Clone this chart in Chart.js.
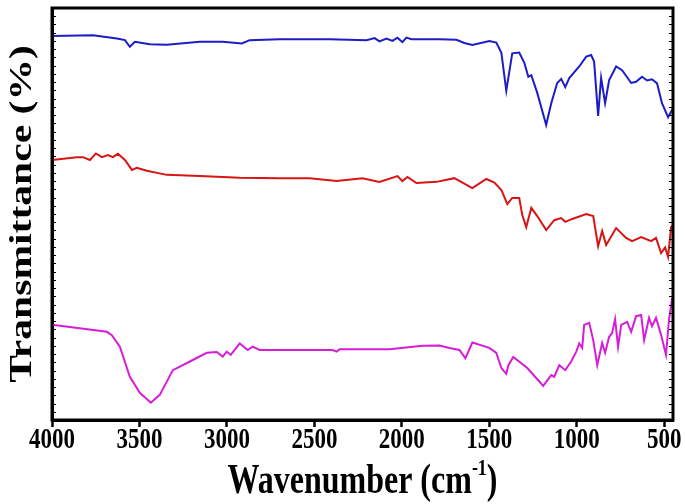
<!DOCTYPE html>
<html>
<head>
<meta charset="utf-8">
<script src="https://cdn.jsdelivr.net/npm/chart.js@4.4.0/dist/chart.umd.min.js"></script>
<style>
  html, body { margin: 0; padding: 0; background: #fff; }
  #wrap { width: 685px; height: 504px; }
</style>
</head>
<body>
<div id="wrap"><canvas id="ftirChart" width="685" height="504"></canvas></div>
<script>
// wavenumber (cm-1) and transmittance, one pair of arrays per trace
const blueWn = [4000, 3766, 3629, 3583, 3555, 3526, 3441, 3344, 3155, 3024, 2915, 2870, 2699, 2413, 2202, 2156, 2128, 2088, 2054, 2025, 1997, 1974, 1945, 1785, 1688, 1643, 1597, 1500, 1460, 1431, 1403, 1369, 1329, 1300, 1277, 1260, 1226, 1175, 1146, 1112, 1089, 1066, 1043, 986, 946, 918, 901, 878, 861, 838, 815, 775, 741, 689, 661, 627, 598, 570, 541, 513, 478, 450];
const blueT = [93.2, 93.4, 92.6, 92.2, 90.6, 91.8, 91.2, 91.1, 91.8, 91.8, 91.4, 92.2, 92.4, 92.4, 92.2, 92.7, 91.9, 92.6, 92.0, 92.8, 91.7, 92.8, 92.4, 92.4, 92.3, 91.5, 91.0, 92.0, 91.6, 89.1, 79.9, 89.0, 89.2, 86.7, 83.3, 83.7, 79.4, 71.6, 76.9, 81.8, 82.8, 80.8, 83.0, 85.8, 88.2, 88.6, 87.0, 73.8, 83.0, 76.9, 82.5, 85.8, 84.9, 81.8, 82.1, 83.3, 82.4, 82.7, 81.7, 76.9, 73.5, 75.7];

const redWn = [4000, 3857, 3823, 3783, 3749, 3715, 3680, 3652, 3623, 3583, 3543, 3515, 3458, 3344, 3155, 2927, 2699, 2527, 2373, 2225, 2128, 2025, 1997, 1968, 1917, 1802, 1700, 1597, 1517, 1471, 1431, 1397, 1369, 1329, 1312, 1289, 1260, 1226, 1175, 1129, 1089, 1066, 1026, 946, 906, 878, 855, 832, 775, 718, 684, 632, 575, 547, 518, 495, 478, 461, 450];
const redT = [63.1, 63.8, 63.8, 63.1, 64.7, 63.8, 64.3, 63.8, 64.6, 63.1, 60.7, 61.2, 60.5, 59.5, 59.2, 58.8, 58.7, 58.7, 58.0, 58.7, 57.8, 59.2, 58.0, 59.0, 57.5, 57.8, 58.7, 56.3, 58.5, 57.6, 55.8, 52.4, 53.9, 53.9, 49.8, 46.8, 51.5, 49.5, 46.1, 48.5, 49.0, 48.1, 48.8, 50.0, 49.5, 42.2, 45.9, 42.5, 46.6, 44.2, 43.4, 44.4, 43.4, 44.2, 40.5, 41.9, 39.6, 46.8, 47.3];

const pinkWn = [4000, 3686, 3658, 3612, 3555, 3498, 3435, 3384, 3309, 3212, 3115, 3058, 3024, 3001, 2978, 2927, 2881, 2853, 2813, 2396, 2373, 2356, 2071, 1882, 1785, 1728, 1671, 1637, 1597, 1500, 1460, 1431, 1403, 1391, 1363, 1283, 1232, 1192, 1146, 1129, 1100, 1066, 1032, 1003, 986, 969, 958, 929, 906, 883, 855, 838, 815, 798, 781, 764, 746, 712, 689, 661, 632, 615, 587, 570, 547, 518, 490, 473, 455];
const pinkT = [23.1, 21.4, 20.6, 17.8, 10.5, 6.6, 4.2, 6.1, 12.1, 14.2, 16.3, 16.5, 15.4, 16.6, 15.8, 18.6, 17.0, 17.8, 17.0, 17.0, 16.6, 17.2, 17.2, 18.0, 18.1, 17.5, 17.0, 15.0, 18.8, 17.5, 16.3, 12.6, 11.2, 13.3, 15.3, 12.6, 10.2, 8.3, 10.9, 10.5, 13.3, 12.1, 14.2, 16.6, 18.6, 17.5, 23.1, 23.6, 19.4, 13.3, 18.7, 16.3, 20.2, 21.1, 24.5, 17.8, 23.1, 23.8, 21.4, 25.2, 25.5, 19.4, 24.8, 22.8, 24.8, 20.6, 15.8, 24.3, 29.6];

const xTickValues = [4000, 3500, 3000, 2500, 2000, 1500, 1000, 500];
const xTitle = "Wavenumber (cm";
const yTitle = "Transmittance (%)";

const toPoints = (wn, t) => wn.map((w, i) => ({ x: w, y: t[i] }));

const serif = "'Liberation Serif', 'Times New Roman', serif";
const stretch = 1.3; // the reference text is taller than it is wide

// frame, inner minor ticks, tick labels and titles
const decorPlugin = {
  id: "decor",
  afterDraw(chart) {
    const ctx = chart.ctx;
    const area = chart.chartArea;
    const xs = chart.scales.x;
    const ys = chart.scales.y;
    ctx.save();

    // small inner ticks on left and right edges
    ctx.strokeStyle = "#000";
    ctx.lineWidth = 1;
    for (let v = 0; v <= 100; v += 2) {
      const py = Math.round(ys.getPixelForValue(v)) + 0.5;
      ctx.beginPath();
      ctx.moveTo(area.left, py);
      ctx.lineTo(area.left + 4, py);
      ctx.moveTo(area.right, py);
      ctx.lineTo(area.right - 4, py);
      ctx.stroke();
    }

    // thick frame
    ctx.lineWidth = 3;
    ctx.strokeRect(area.left, area.top, area.right - area.left, area.bottom - area.top);

    // x tick labels
    ctx.fillStyle = "#000";
    ctx.font = "bold 23px " + serif;
    ctx.textAlign = "center";
    ctx.textBaseline = "middle";
    xTickValues.forEach((v) => {
      const px = xs.getPixelForValue(v);
      ctx.save();
      ctx.translate(px, 440);
      ctx.scale(1, stretch);
      ctx.fillText(String(v), 0, 0);
      ctx.restore();
    });

    // x title with superscript
    ctx.save();
    ctx.font = "bold 32px " + serif;
    const mainW = ctx.measureText(xTitle).width;
    ctx.font = "bold 18px " + serif;
    const supW = ctx.measureText("-1").width;
    ctx.font = "bold 32px " + serif;
    const closeW = ctx.measureText(")").width;
    const total = mainW + supW + closeW;
    const cx = (area.left + area.right) / 2;
    ctx.translate(cx - total / 2, 482);
    ctx.scale(1, stretch);
    ctx.textAlign = "left";
    ctx.fillText(xTitle, 0, 0);
    ctx.font = "bold 18px " + serif;
    ctx.fillText("-1", mainW, -10);
    ctx.font = "bold 32px " + serif;
    ctx.fillText(")", mainW + supW, 0);
    ctx.restore();

    // y title, rotated
    ctx.save();
    ctx.translate(23, (area.top + area.bottom) / 2);
    ctx.rotate(-Math.PI / 2);
    ctx.scale(stretch, 1);
    ctx.font = "bold 32px " + serif;
    ctx.textAlign = "center";
    ctx.fillText(yTitle, 0, 0);
    ctx.restore();

    ctx.restore();
  },
};

const lineSet = (label, wn, t, color) => ({
  label: label,
  data: toPoints(wn, t),
  borderColor: color,
  borderWidth: 2,
  pointRadius: 0,
  tension: 0,
  fill: false,
});

new Chart(document.getElementById("ftirChart").getContext("2d"), {
  type: "line",
  data: {
    datasets: [
      lineSet("a", blueWn, blueT, "#1c1cc8"),
      lineSet("b", redWn, redT, "#d81414"),
      lineSet("c", pinkWn, pinkT, "#d61ed6"),
    ],
  },
  options: {
    responsive: false,
    animation: false,
    layout: { padding: { top: 8, right: 12, left: 0, bottom: 0 } },
    plugins: {
      legend: { display: false },
      tooltip: { enabled: false },
    },
    scales: {
      x: {
        type: "linear",
        reverse: true,
        min: 450,
        max: 4000,
        afterBuildTicks: (scale) => {
          scale.ticks = xTickValues.map((v) => ({ value: v }));
        },
        afterFit: (scale) => {
          scale.height = 84;
        },
        ticks: { display: false },
        grid: {
          drawOnChartArea: false,
          drawTicks: true,
          tickLength: 7,
          tickWidth: 2.5,
          tickColor: "#000",
        },
        border: { display: true, color: "#000", width: 3 },
      },
      y: {
        min: 0,
        max: 100,
        afterFit: (scale) => {
          scale.width = 52;
        },
        ticks: { display: false },
        grid: { display: false },
        border: { display: true, color: "#000", width: 3 },
      },
    },
  },
  plugins: [decorPlugin],
});
</script>
</body>
</html>
